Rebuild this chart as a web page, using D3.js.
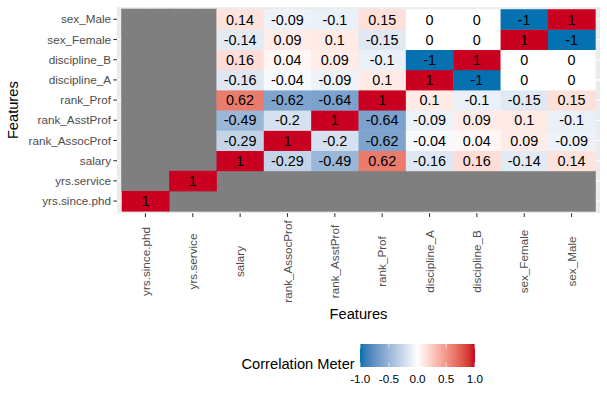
<!DOCTYPE html>
<html>
<head>
<meta charset="utf-8">
<script src="https://cdn.jsdelivr.net/npm/d3@7"></script>
<style>
  body { margin: 0; background: #fff; }
  svg { display: block; font-family: 'Liberation Sans', Arial, sans-serif; }
</style>
</head>
<body>
<svg id="chart" width="607" height="399"></svg>
<script>
// feature order, bottom-to-top on y and left-to-right on x
const features = ['yrs.since.phd', 'yrs.service', 'salary', 'rank_AssocProf', 'rank_AsstProf',
  'rank_Prof', 'discipline_A', 'discipline_B', 'sex_Female', 'sex_Male'];

// one row per y feature, values follow the x order above (null = NA, grey)
const rowYrsSincePhd = [1, null, null, null, null, null, null, null, null, null];
const rowYrsService = [null, 1, null, null, null, null, null, null, null, null];
const rowSalary = [null, null, 1, -0.29, -0.49, 0.62, -0.16, 0.16, -0.14, 0.14];
const rowRankAssocProf = [null, null, -0.29, 1, -0.2, -0.62, -0.04, 0.04, 0.09, -0.09];
const rowRankAsstProf = [null, null, -0.49, -0.2, 1, -0.64, -0.09, 0.09, 0.1, -0.1];
const rowRankProf = [null, null, 0.62, -0.62, -0.64, 1, 0.1, -0.1, -0.15, 0.15];
const rowDisciplineA = [null, null, -0.16, -0.04, -0.09, 0.1, 1, -1, 0, 0];
const rowDisciplineB = [null, null, 0.16, 0.04, 0.09, -0.1, -1, 1, 0, 0];
const rowSexFemale = [null, null, -0.14, 0.09, 0.1, -0.15, 0, 0, 1, -1];
const rowSexMale = [null, null, 0.14, -0.09, -0.1, 0.15, 0, 0, -1, 1];

const rows = [rowYrsSincePhd, rowYrsService, rowSalary, rowRankAssocProf, rowRankAsstProf,
  rowRankProf, rowDisciplineA, rowDisciplineB, rowSexFemale, rowSexMale];

const legendTicks = [-1, -0.5, 0, 0.5, 1];

const cells = [];
rows.forEach((r, i) => {
  r.forEach((v, j) => {
    cells.push({ y: features[i], x: features[j], value: v });
  });
});

const svg = d3.select('#chart');

const panel = { left: 117, right: 600, top: 7.2, bottom: 213.2 };

const x = d3.scaleBand()
  .domain(features)
  .range([panel.left, panel.right])
  .paddingInner(0)
  .paddingOuter(0.1);

const y = d3.scaleBand()
  .domain(features)
  .range([panel.bottom, panel.top])
  .paddingInner(0)
  .paddingOuter(0.1);

const colour = d3.scaleLinear()
  .domain([-1, 0, 1])
  .range(['#0571B0', '#ffffff', '#CA0020'])
  .interpolate(d3.interpolateLab);

const naColour = '#7F7F7F';
const axisColour = '#4D4D4D';

// panel background + grid
svg.append('rect')
  .attr('x', panel.left)
  .attr('y', panel.top)
  .attr('width', panel.right - panel.left)
  .attr('height', panel.bottom - panel.top)
  .attr('fill', '#EBEBEB');

const grid = svg.append('g').attr('stroke', '#fff').attr('stroke-width', 1.07);
grid.selectAll('line.vx')
  .data(features)
  .enter()
  .append('line')
  .attr('x1', d => x(d) + x.bandwidth() / 2)
  .attr('x2', d => x(d) + x.bandwidth() / 2)
  .attr('y1', panel.top)
  .attr('y2', panel.bottom);
grid.selectAll('line.hy')
  .data(features)
  .enter()
  .append('line')
  .attr('y1', d => y(d) + y.bandwidth() / 2)
  .attr('y2', d => y(d) + y.bandwidth() / 2)
  .attr('x1', panel.left)
  .attr('x2', panel.right);

// tiles: NA ones first as one block colour, then coloured ones on top
const tiles = svg.append('g');
tiles.selectAll('rect.na')
  .data(cells.filter(d => d.value === null))
  .enter()
  .append('rect')
  .attr('x', d => x(d.x) - 0.5)
  .attr('y', d => y(d.y) - 0.5)
  .attr('width', x.bandwidth() + 1)
  .attr('height', y.bandwidth() + 1)
  .attr('fill', naColour);
tiles.selectAll('rect.val')
  .data(cells.filter(d => d.value !== null))
  .enter()
  .append('rect')
  .attr('x', d => x(d.x))
  .attr('y', d => y(d.y))
  .attr('width', x.bandwidth() + 0.4)
  .attr('height', y.bandwidth() + 0.4)
  .attr('fill', d => colour(d.value));

// labels in tiles
svg.append('g')
  .selectAll('text')
  .data(cells.filter(d => d.value !== null))
  .enter()
  .append('text')
  .attr('x', d => x(d.x) + x.bandwidth() / 2)
  .attr('y', d => y(d.y) + y.bandwidth() / 2)
  .attr('dy', '0.36em')
  .attr('text-anchor', 'middle')
  .attr('font-size', '14.4px')
  .attr('fill', '#000')
  .text(d => String(d.value));

// y axis
const yAxis = svg.append('g');
features.forEach((f) => {
  const cy = y(f) + y.bandwidth() / 2;
  yAxis.append('line')
    .attr('x1', panel.left - 3.7)
    .attr('x2', panel.left)
    .attr('y1', cy)
    .attr('y2', cy)
    .attr('stroke', '#333')
    .attr('stroke-width', 1.07);
  yAxis.append('text')
    .attr('x', panel.left - 6)
    .attr('y', cy)
    .attr('dy', '0.35em')
    .attr('text-anchor', 'end')
    .attr('font-size', '11.7px')
    .attr('fill', axisColour)
    .text(f);
});

// x axis, labels turned 90 degrees and centred
const xAxis = svg.append('g');
features.forEach((f) => {
  const cx = x(f) + x.bandwidth() / 2;
  xAxis.append('line')
    .attr('x1', cx)
    .attr('x2', cx)
    .attr('y1', panel.bottom)
    .attr('y2', panel.bottom + 3.7)
    .attr('stroke', '#333')
    .attr('stroke-width', 1.07);
  xAxis.append('text')
    .attr('transform', `translate(${cx},261.5) rotate(-90)`)
    .attr('dy', '0.35em')
    .attr('text-anchor', 'middle')
    .attr('font-size', '11.7px')
    .attr('fill', axisColour)
    .text(f);
});

// axis titles
svg.append('text')
  .attr('x', (panel.left + panel.right) / 2)
  .attr('y', 319)
  .attr('text-anchor', 'middle')
  .attr('font-size', '14.67px')
  .attr('fill', '#000')
  .text('Features');

svg.append('text')
  .attr('transform', `translate(18,${(panel.top + panel.bottom) / 2}) rotate(-90)`)
  .attr('text-anchor', 'middle')
  .attr('font-size', '14.67px')
  .attr('fill', '#000')
  .text('Features');

// legend colour bar
const bar = { x: 360, y: 344, w: 115, h: 23 };
const legendX = d3.scaleLinear()
  .domain([-1, 1])
  .range([bar.x + 0.2, bar.x + bar.w - 0.2]);

const defs = svg.append('defs');
const grad = defs.append('linearGradient')
  .attr('id', 'corr-grad')
  .attr('x1', '0%')
  .attr('x2', '100%')
  .attr('y1', '0%')
  .attr('y2', '0%');
grad.selectAll('stop')
  .data(d3.range(0, 1.0001, 0.05))
  .enter()
  .append('stop')
  .attr('offset', d => `${d * 100}%`)
  .attr('stop-color', d => colour(d * 2 - 1));

svg.append('rect')
  .attr('x', bar.x)
  .attr('y', bar.y)
  .attr('width', bar.w)
  .attr('height', bar.h)
  .attr('fill', 'url(#corr-grad)');

const legendAxis = svg.append('g');
legendAxis.selectAll('line.top')
  .data(legendTicks)
  .enter()
  .append('line')
  .attr('x1', d => legendX(d))
  .attr('x2', d => legendX(d))
  .attr('y1', bar.y)
  .attr('y2', bar.y + bar.h / 5)
  .attr('stroke', '#fff')
  .attr('stroke-opacity', 0.6)
  .attr('stroke-width', 1);
legendAxis.selectAll('line.bottom')
  .data(legendTicks)
  .enter()
  .append('line')
  .attr('x1', d => legendX(d))
  .attr('x2', d => legendX(d))
  .attr('y1', bar.y + bar.h - bar.h / 5)
  .attr('y2', bar.y + bar.h)
  .attr('stroke', '#fff')
  .attr('stroke-opacity', 0.6)
  .attr('stroke-width', 1);
legendAxis.selectAll('text')
  .data(legendTicks)
  .enter()
  .append('text')
  .attr('x', d => legendX(d))
  .attr('y', 383)
  .attr('text-anchor', 'middle')
  .attr('font-size', '11.7px')
  .attr('fill', '#000')
  .text(d => d3.format('.1f')(d).replace('−', '-'));

svg.append('text')
  .attr('x', 241.5)
  .attr('y', 369)
  .attr('font-size', '14.67px')
  .attr('fill', '#000')
  .text('Correlation Meter');
</script>
</body>
</html>
